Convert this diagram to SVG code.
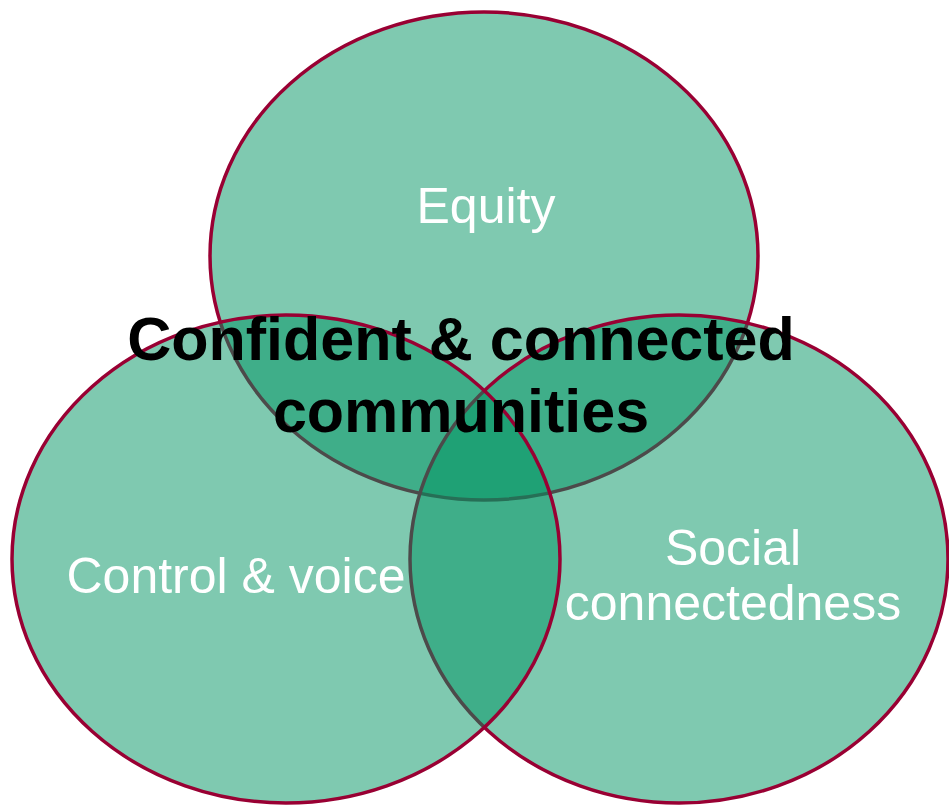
<svg xmlns="http://www.w3.org/2000/svg" width="949" height="806" viewBox="0 0 949 806">
<style>
.c{fill:#009361;fill-opacity:0.5;stroke:#990033;stroke-width:3.5}
.lbl{font-family:"Liberation Sans",Arial,sans-serif;font-size:50px;fill:#ffffff;text-anchor:middle}
.ttl{font-family:"Liberation Sans",Arial,sans-serif;font-size:61px;font-weight:bold;fill:#000000;text-anchor:middle}
</style>
<rect width="949" height="806" fill="#ffffff"/>
<g id="equity"><ellipse class="c" cx="484" cy="256" rx="274" ry="244"/></g>
<g id="social"><ellipse class="c" cx="679" cy="559" rx="269" ry="244"/></g>
<g id="control"><ellipse class="c" cx="286" cy="559" rx="274" ry="244"/></g>
<g id="connectors"></g>
<g id="labels">
<text class="lbl" x="486" y="223">Equity</text>
<text class="lbl" x="236" y="593">Control &amp; voice</text>
<text class="lbl" x="733" y="565">Social</text>
<text class="lbl" x="733" y="620">connectedness</text>
</g>
<g id="title">
<text class="ttl" x="461" y="360">Confident &amp; connected</text>
<text class="ttl" x="461" y="432">communities</text>
</g>
</svg>
